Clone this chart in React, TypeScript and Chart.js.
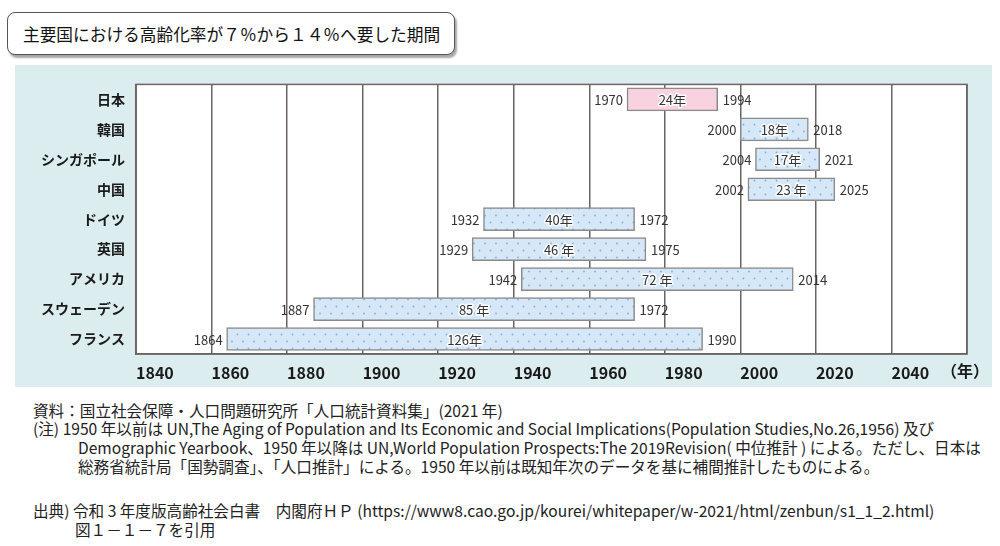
import React, { useEffect, useRef } from 'react';
import { Chart, registerables } from 'chart.js';

Chart.register(...registerables);

const FONT = '"Noto Sans CJK JP", "Noto Sans", sans-serif';
const GRID = '#6b6462';
const PINK = '#f8d3df';
const BAR_BORDER = '#8a8a8a';

const categories = ['日本', '韓国', 'シンガポール', '中国', 'ドイツ', '英国', 'アメリカ', 'スウェーデン', 'フランス'];
const startYears = [1970, 2000, 2004, 2002, 1932, 1929, 1942, 1887, 1864];
const endYears = [1994, 2018, 2021, 2025, 1972, 1975, 2014, 1972, 1990];
const durationLabels = ['24年', '18年', '17年', '23 年', '40年', '46 年', '72 年', '85 年', '126年'];
const xMin = 1840;
const xMax = 2060;
const xStep = 20;
const unitLabel = '（年）';

const titleText = '主要国における高齢化率が７％から１４％へ要した期間';
const noteLines = [
  '資料：国立社会保障・人口問題研究所「人口統計資料集」(2021 年)',
  '(注) 1950 年以前は UN,The Aging of Population and Its Economic and Social Implications(Population Studies,No.26,1956) 及び',
  'Demographic Yearbook、1950 年以降は UN,World Population Prospects:The 2019Revision( 中位推計 ) による。ただし、日本は',
  '総務省統計局「国勢調査」、「人口推計」による。1950 年以前は既知年次のデータを基に補間推計したものによる。',
  '出典) 令和 3 年度版高齢社会白書　内閣府ＨＰ (https://www8.cao.go.jp/kourei/whitepaper/w-2021/html/zenbun/s1_1_2.html)',
  '図１－１－７を引用',
];
const noteLayout = [
  { left: 33, top: 400 },
  { left: 33, top: 418 },
  { left: 78, top: 437 },
  { left: 78, top: 456 },
  { left: 33, top: 500 },
  { left: 75, top: 519 },
];

export default function App() {
  const canvasRef = useRef<HTMLCanvasElement>(null);

  useEffect(() => {
    const canvas = canvasRef.current;
    if (!canvas) return;
    const pc = document.createElement('canvas');
    pc.width = 11;
    pc.height = 14;
    const p = pc.getContext('2d')!;
    p.fillStyle = '#d6e8f8';
    p.fillRect(0, 0, 11, 14);
    p.fillStyle = '#7eb0de';
    p.beginPath();
    p.arc(2.5, 3.5, 0.9, 0, Math.PI * 2);
    p.fill();
    p.beginPath();
    p.arc(8, 10.5, 0.9, 0, Math.PI * 2);
    p.fill();
    const ctx0 = canvas.getContext('2d')!;
    const pattern = ctx0.createPattern(pc, 'repeat')!;

    const framePlugin = {
      id: 'frame',
      beforeDraw(chart: any) {
        const { ctx, chartArea: a } = chart;
        ctx.save();
        ctx.fillStyle = '#ffffff';
        ctx.fillRect(a.left, a.top, a.right - a.left, a.bottom - a.top);
        ctx.restore();
      },
      beforeDatasetsDraw(chart: any) {
        const { ctx, chartArea: a } = chart;
        ctx.save();
        ctx.strokeStyle = GRID;
        ctx.lineWidth = 1.5;
        ctx.strokeRect(a.left, a.top, a.right - a.left, a.bottom - a.top);
        ctx.restore();
      },
      afterDatasetsDraw(chart: any) {
        const { ctx } = chart;
        const meta = chart.getDatasetMeta(0);
        ctx.save();
        ctx.font = `13px ${FONT}`;
        ctx.textBaseline = 'middle';
        meta.data.forEach((el: any, i: number) => {
          const left = Math.min(el.x, el.base);
          const right = Math.max(el.x, el.base);
          const y = el.y;
          ctx.fillStyle = '#333333';
          ctx.textAlign = 'right';
          ctx.fillText(String(startYears[i]), left - 4, y + 1);
          ctx.textAlign = 'left';
          ctx.fillText(String(endYears[i]), right + 5, y + 1);
          ctx.textAlign = 'center';
          ctx.lineWidth = 3;
          ctx.strokeStyle = 'rgba(255,255,255,0.9)';
          ctx.lineJoin = 'round';
          const cx = (left + right) / 2;
          ctx.strokeText(durationLabels[i], cx, y + 1);
          ctx.fillStyle = '#333333';
          ctx.fillText(durationLabels[i], cx, y + 1);
        });
        ctx.restore();
      },
      afterDraw(chart: any) {
        const { ctx } = chart;
        const xs = chart.scales.x;
        ctx.save();
        ctx.font = `bold 16px ${FONT}`;
        ctx.fillStyle = '#1a1a1a';
        ctx.textAlign = 'center';
        ctx.textBaseline = 'top';
        ctx.fillText(unitLabel, xs.getPixelForValue(xMax) - 2, xs.top + 9);
        ctx.restore();
      },
    };

    const chart = new Chart(canvas, {
      type: 'bar',
      data: {
        labels: categories,
        datasets: [
          {
            data: startYears.map((s, i) => [s, endYears[i]]) as any,
            backgroundColor: categories.map((_, i) => (i === 0 ? PINK : pattern)) as any,
            borderColor: BAR_BORDER,
            borderWidth: 1.5,
            borderSkipped: false,
            barThickness: 23,
          },
        ],
      },
      options: {
        indexAxis: 'y',
        animation: false,
        responsive: true,
        maintainAspectRatio: false,
        layout: { padding: { top: 13, right: 25, bottom: 0, left: 0 } },
        plugins: { legend: { display: false }, tooltip: { enabled: false } },
        scales: {
          x: {
            type: 'linear',
            position: 'bottom',
            min: xMin,
            max: xMax,
            ticks: {
              stepSize: xStep,
              align: 'start',
              padding: 9,
              color: '#1a1a1a',
              font: { family: FONT, size: 16, weight: 'bold' },
              callback: (v: any) => (Number(v) === xMax ? '' : String(v)),
            },
            grid: { color: GRID, lineWidth: 1.5, drawTicks: false },
            border: { display: true, color: GRID, width: 1.5 },
            afterFit: (s: any) => {
              s.height = 33;
            },
          },
          y: {
            type: 'category',
            ticks: {
              padding: 11,
              color: '#1a1a1a',
              font: { family: FONT, size: 14, weight: 'bold' },
            },
            grid: { display: false, drawTicks: false },
            border: { display: true, color: GRID, width: 1.5 },
            afterFit: (s: any) => {
              s.width = 121;
            },
          },
        },
      },
      plugins: [framePlugin],
    } as any);

    return () => chart.destroy();
  }, []);

  return (
    <div
      style={{
        position: 'fixed',
        left: 0,
        top: 0,
        width: 1000,
        height: 546,
        background: '#ffffff',
        overflow: 'hidden',
        fontFamily: FONT,
      }}
    >
      <div
        style={{
          position: 'absolute',
          left: 7,
          top: 12,
          width: 448,
          height: 43,
          border: '1px solid #555',
          borderRadius: 8,
          boxShadow: '2px 3px 2px rgba(0,0,0,0.35)',
          background: '#fff',
          display: 'flex',
          alignItems: 'center',
          paddingLeft: 15,
          boxSizing: 'border-box',
          fontSize: 16.7,
          color: '#111',
          whiteSpace: 'nowrap',
        }}
      >
        {titleText}
      </div>
      <div
        style={{
          position: 'absolute',
          left: 15,
          top: 65,
          width: 977,
          height: 322,
          background: '#dcedf0',
        }}
      >
        <canvas ref={canvasRef} />
      </div>
      {noteLines.map((t, i) => (
        <div
          key={i}
          style={{
            position: 'absolute',
            left: noteLayout[i].left,
            top: noteLayout[i].top,
            fontSize: 15.6,
            lineHeight: '20px',
            color: '#222',
            whiteSpace: 'nowrap',
          }}
        >
          {t}
        </div>
      ))}
    </div>
  );
}
